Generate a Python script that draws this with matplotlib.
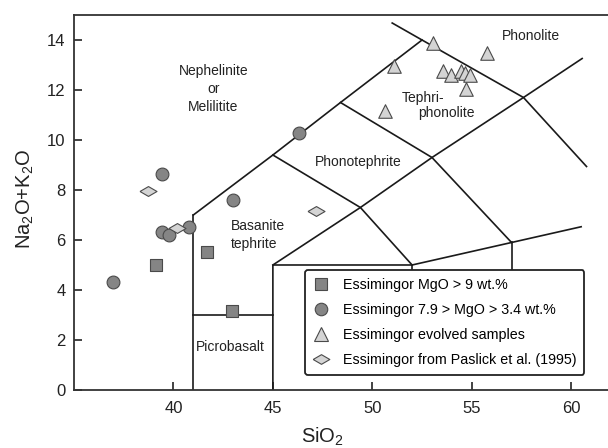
import matplotlib.pyplot as plt
from matplotlib.lines import Line2D

plt.rcParams['font.family'] = ['Liberation Sans', 'DejaVu Sans']

# sample data (SiO2, Na2O+K2O)
sq_x = [39.1, 41.7, 42.95]
sq_y = [5.0, 5.5, 3.15]

circ_x = [36.95, 39.43, 39.43, 39.8, 40.8, 42.98, 46.32]
circ_y = [4.3, 8.64, 6.32, 6.2, 6.5, 7.6, 10.27]

tri_x = [50.65, 51.1, 53.07, 53.57, 53.95, 54.45, 54.65, 54.9, 54.72, 55.75]
tri_y = [11.15, 12.98, 13.88, 12.78, 12.6, 12.78, 12.68, 12.6, 12.05, 13.48]

dia_x = [38.7, 40.17, 47.15]
dia_y = [7.97, 6.47, 7.15]

series_labels = ["Essimingor MgO > 9 wt.%",
                 "Essimingor 7.9 > MgO > 3.4 wt.%",
                 "Essimingor evolved samples",
                 "Essimingor from Paslick et al. (1995)"]

# TAS field boundaries (Le Bas et al.), as drawn in the figure
tas_lines = [
    ([41, 41], [0, 7]),
    ([41, 45, 48.4, 52.5], [7, 9.4, 11.5, 14]),
    ([41, 45], [3, 3]),
    ([45, 45, 52, 57, 60.5], [0, 5, 5, 5.9, 6.53]),
    ([45, 49.4, 53, 57.6, 60.55], [5, 7.3, 9.3, 11.7, 13.26]),
    ([45, 49.4, 52], [9.4, 7.3, 5]),
    ([48.4, 53, 57], [11.5, 9.3, 5.9]),
    ([51, 52.5, 57.6, 60.77], [14.68, 14, 11.7, 8.94]),
    ([52, 52], [5, 4]),
    ([57, 57], [5.9, 4]),
]

field_names = [
    ("Nephelinite\nor\nMelilitite", 42.0, 12.05, 'center'),
    ("Phonotephrite", 49.3, 9.1, 'center'),
    ("Tephri-", 52.55, 11.68, 'center'),
    ("phonolite", 53.74, 11.1, 'center'),
    ("Phonolite", 58.0, 14.15, 'center'),
    ("Basanite\ntephrite", 42.9, 6.2, 'left'),
    ("Picrobasalt", 42.88, 1.7, 'center'),
]

fig = plt.figure(figsize=(6.08, 4.48), dpi=100)
ax = fig.add_axes([0.1217, 0.1295, 0.8783, 0.837])

for xs, ys in tas_lines:
    ax.plot(xs, ys, color='#1a1a1a', lw=1.2, zorder=2)

for txt, x, y, ha in field_names:
    ax.text(x, y, txt, ha=ha, va='center', fontsize=10, color='#222222',
            linespacing=1.35, zorder=3)

dark = '#858585'
light = '#d4d4d4'
edge = '#4a4a4a'
flat_diamond = [(-1, 0), (0, 0.58), (1, 0), (0, -0.58), (-1, 0)]

ax.scatter(sq_x, sq_y, marker='s', s=75, c=dark, edgecolors=edge, linewidths=0.8, zorder=4)
ax.scatter(circ_x, circ_y, marker='o', s=85, c=dark, edgecolors=edge, linewidths=0.8, zorder=4)
ax.scatter(tri_x, tri_y, marker='^', s=95, c=light, edgecolors=edge, linewidths=0.8, zorder=4)
ax.scatter(dia_x, dia_y, marker=flat_diamond, s=150, c=light, edgecolors=edge, linewidths=0.8, zorder=4)

handles = [
    Line2D([], [], ls='', marker='s', ms=8.5, mfc=dark, mec=edge, mew=0.8),
    Line2D([], [], ls='', marker='o', ms=9, mfc=dark, mec=edge, mew=0.8),
    Line2D([], [], ls='', marker='^', ms=9.5, mfc=light, mec=edge, mew=0.8),
    Line2D([], [], ls='', marker=flat_diamond, ms=12, mfc=light, mec=edge, mew=0.8),
]
leg = ax.legend(handles, series_labels, loc='lower left', bbox_to_anchor=(0.4326, 0.04),
                borderaxespad=0, fontsize=10.3, frameon=True, fancybox=True,
                handlelength=1.2, handletextpad=0.9, labelspacing=0.78,
                borderpad=0.55, framealpha=1)
leg.get_frame().set_edgecolor('#222222')
leg.get_frame().set_linewidth(1.3)
leg.set_zorder(5)

ax.set_xlim(35, 61.85)
ax.set_ylim(0, 15)
ax.set_xticks([40, 45, 50, 55, 60])
ax.set_yticks([0, 2, 4, 6, 8, 10, 12, 14])
ax.tick_params(direction='in', length=6, width=1.2, labelsize=12, colors='#222222')
ax.tick_params(axis='x', pad=8)
ax.tick_params(axis='y', pad=6)
for side in ['left', 'bottom', 'top']:
    ax.spines[side].set_color('#333333')
    ax.spines[side].set_linewidth(1.3)
ax.spines['right'].set_visible(False)

ax.set_xlabel(r'SiO$_\mathregular{2}$', fontsize=14.5, color='#222222')
ax.set_ylabel(r'Na$_\mathregular{2}$O+K$_\mathregular{2}$O', fontsize=14.5, color='#222222')
ax.xaxis.set_label_coords(0.466, -0.125)
ax.yaxis.set_label_coords(-0.092, 0.51)
ax.xaxis.label.set_va('center')
ax.yaxis.label.set_va('center')

fig.savefig('out.png', dpi=100)
